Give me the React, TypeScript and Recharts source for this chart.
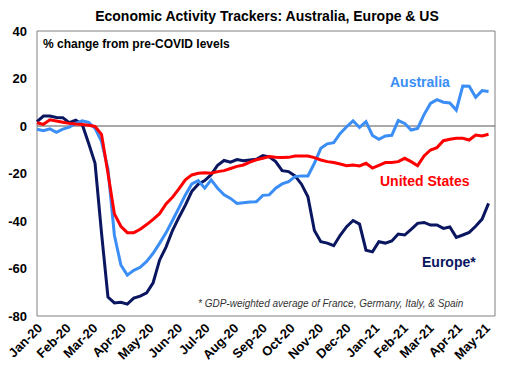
import { LineChart, Line, XAxis, YAxis, ReferenceLine, ReferenceArea } from 'recharts';

const monthLabels = ['Jan-20', 'Feb-20', 'Mar-20', 'Apr-20', 'May-20', 'Jun-20', 'Jul-20', 'Aug-20', 'Sep-20', 'Oct-20', 'Nov-20', 'Dec-20', 'Jan-21', 'Feb-21', 'Mar-21', 'Apr-21', 'May-21'];
// day of first of each month, counted from 1 Jan 2020
const monthStartDays = [0, 31, 60, 91, 121, 152, 182, 213, 244, 274, 305, 335, 366, 397, 425, 456, 486];
const yTicks = [-80, -60, -40, -20, 0, 20, 40];

// weekly readings, % change from pre-COVID levels
const australia = [
    -1.4, -2, -1.2, -2.7, -1.3, -0.5, 1.1, 2.2, 1.5, -1,
    -6.5, -18, -46, -58.5, -62.8, -60.8, -59.5, -57, -53.6, -49.4,
    -45, -39.8, -34.5, -29, -24.4, -23, -26.2, -22.7, -26.2, -29,
    -30.5, -32.6, -32.3, -32, -31.9, -29.2, -29, -26.2, -24.4, -23.4,
    -21.3, -21, -21, -15.7, -9.4, -7.5, -7, -3.1, -0.3, 2.2,
    -0.6, 1.8, -4, -5.6, -4.2, -3.9, 2.3, 1.1, -1.7, -1,
    4.8, 9.5, 11.1, 10, 9.7, 6.7, 16.8, 16.7, 12.1, 14.9,
    14.5,
];
const unitedStates = [
    1.4, 0.7, 2.6, 2.1, 1.6, 1.1, 0.8, 0.6, 0.3, -0.2,
    -3.5, -19.9, -37, -42.2, -44.9, -44.9, -43.5, -41.5, -39.3, -36.9,
    -32.8, -30, -26.5, -22.7, -20.6, -19.9, -19.7, -19.9, -19.2, -18.8,
    -17.9, -17, -16.4, -15.2, -14.2, -13.6, -12.9, -13.2, -13.3, -13.2,
    -12.6, -12.6, -12.6, -13.3, -14.3, -15, -15.4, -16, -16.7, -16.4,
    -16.8, -15.7, -17.7, -16.6, -15.4, -15.4, -15, -13.6, -15, -16.7,
    -12.6, -10.1, -9.1, -6.2, -5.6, -5.2, -5.2, -5.9, -3.8, -4.2,
    -3.5,
];
const europe = [
    1.8, 4.2, 4.2, 3.6, 3.5, 1.4, 2.5, 0.7, -7.3, -15.7,
    -45, -72, -74.5, -74.2, -75, -72.5, -71.6, -70.2, -66, -56.5,
    -51, -44, -38.5, -33.3, -27.5, -24.5, -23, -20.5, -16.5, -14.5,
    -15.2, -14.1, -14.6, -14.3, -14, -12.5, -13, -15, -18.8, -19.2,
    -21, -24.5, -29.8, -44, -48.7, -49.3, -50.4, -46, -42.4, -39.8,
    -41.3, -52.3, -53, -48.7, -49.3, -48.4, -45.5, -45.9, -43.5, -41,
    -40.6, -41.7, -41.7, -43.1, -42.5, -46.9, -45.9, -44.8, -42.2, -39.2,
    -32.6,
];

const data = australia.map((v, i) => ({
    day: i * 7,
    au: v,
    us: unitedStates[i],
    eu: europe[i],
}));

const AU_COLOR = '#3a8ef6';
const US_COLOR = '#ff0000';
const EU_COLOR = '#0a1660';
const FONT = 'Arial, "Liberation Sans", sans-serif';

const MonthTick = ({ x, y, payload }: any) => {
    const idx = monthStartDays.indexOf(payload.value);
    return (
        <g transform={`translate(${x + 6},${y + 5})`}>
            <text transform="rotate(-45)" textAnchor="end" fontSize={13} fontWeight="bold" fontFamily={FONT} fill="#000">
                {monthLabels[idx]}
            </text>
        </g>
    );
};

export default function App() {
    return (
        <div style={{ position: 'absolute', left: 0, top: 0, width: 512, height: 379, background: '#fff' }}>
            <LineChart width={512} height={379} data={data} margin={{ top: 31, right: 17, left: 0, bottom: 0 }}>
                <XAxis
                    dataKey="day"
                    type="number"
                    domain={[0, 497]}
                    ticks={monthStartDays}
                    tick={<MonthTick />}
                    tickLine={false}
                    axisLine={false}
                    height={63}
                    interval={0}
                />
                <YAxis
                    domain={[-80, 40]}
                    ticks={yTicks}
                    width={37}
                    tickLine={false}
                    axisLine={false}
                    tickMargin={4}
                    tick={{ fontSize: 13, fontWeight: 'bold', fill: '#000', fontFamily: FONT }}
                />
                <ReferenceArea x1={0} x2={497} y1={-80} y2={40} fill="none" stroke="#808080" strokeWidth={1} />
                <ReferenceLine y={0} stroke="#555" strokeWidth={1} />
                <Line type="linear" dataKey="eu" stroke={EU_COLOR} strokeWidth={3} dot={false} isAnimationActive={false} />
                <Line type="linear" dataKey="au" stroke={AU_COLOR} strokeWidth={3} dot={false} isAnimationActive={false} />
                <Line type="linear" dataKey="us" stroke={US_COLOR} strokeWidth={3} dot={false} isAnimationActive={false} />
            </LineChart>
            <svg width={512} height={379} style={{ position: 'absolute', left: 0, top: 0, pointerEvents: 'none' }} fontFamily={FONT}>
                <text x={267} y={21} textAnchor="middle" fontSize={14} fontWeight="bold" fill="#000">
                    Economic Activity Trackers: Australia, Europe &amp; US
                </text>
                <text x={43} y={48} fontSize={12} fontWeight="bold" fill="#000">% change from pre-COVID levels</text>
                <text x={198} y={307} fontSize={10} fontStyle="italic" fill="#333">
                    * GDP-weighted average of France, Germany, Italy, &amp; Spain
                </text>
                <text x={390} y={87} fontSize={14} fontWeight="bold" fill={AU_COLOR}>Australia</text>
                <text x={380} y={186} fontSize={14} fontWeight="bold" fill={US_COLOR}>United States</text>
                <text x={422} y={267} fontSize={14} fontWeight="bold" fill={EU_COLOR}>Europe*</text>
            </svg>
        </div>
    );
}
